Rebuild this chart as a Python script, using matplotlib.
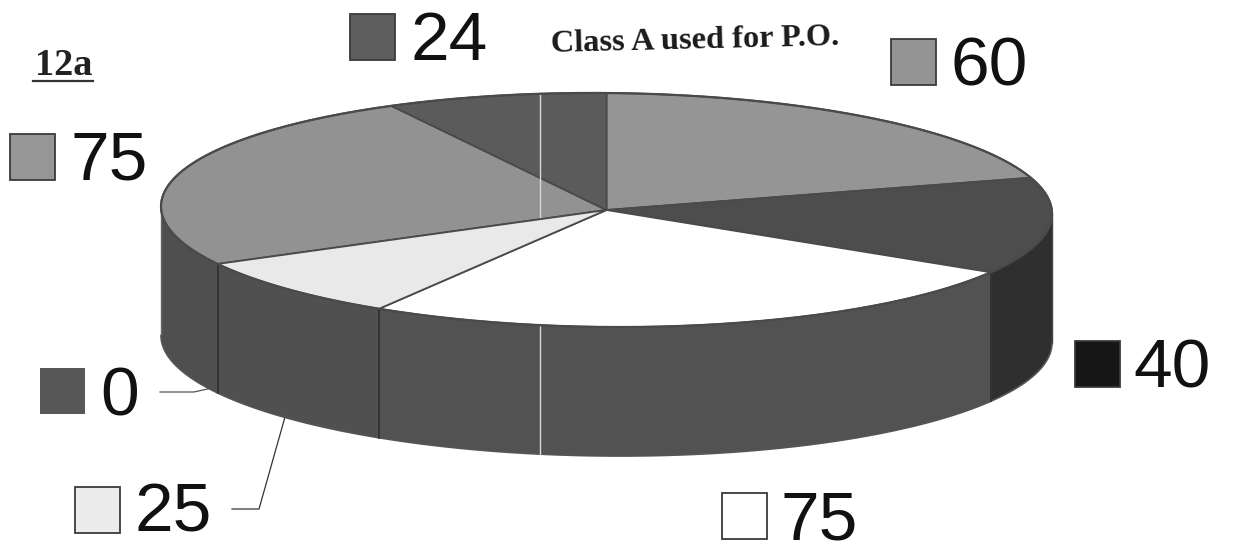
import numpy as np
import matplotlib
matplotlib.use("Agg")
import matplotlib.pyplot as plt
from matplotlib.patches import Polygon, Rectangle

# slices clockwise from 12 o'clock
values = [60, 40, 75, 0, 25, 75, 24]
top_colors = ['#959595', '#4d4d4d', '#ffffff', '#555555', '#e9e9e9', '#929292', '#5b5b5b']
side_colors = ['#6e6e6e', '#2f2f2f', '#525252', '#4a4a4a', '#505050', '#4f4f4f', '#4a4a4a']
swatch_colors = ['#949494', '#161616', '#ffffff', '#585858', '#ececec', '#969696', '#5e5e5e']
title = 'Class A used for P.O.'
fig_label = '12a'

# pixel layout of the scan
cx, cy, rx, ry = 606.5, 210, 445.5, 117
depth = 129
shear = 0.008
swatches = [(891, 39), (1075, 341), (722, 493), (40, 368), (75, 487), (10, 134), (350, 14)]
text_pos = [(950, 86), (1133, 388), (781, 539), (100, 415), (134, 532), (71, 179), (410, 60)]

fig = plt.figure(figsize=(12.4, 5.47), dpi=100)
ax = fig.add_axes([0, 0, 1, 1])
ax.set_xlim(0, 1240)
ax.set_ylim(547, 0)
ax.axis('off')


def rim(a, dy=0):
    # a in degrees, counter clockwise from 3 o'clock
    r = np.radians(a)
    x = cx + rx * np.cos(r)
    y = cy - ry * np.sin(r) + shear * (x - cx) + dy
    return np.column_stack([x, y])


edges = 90 - np.cumsum([0] + values) / sum(values) * 360

# side wall, only the front half shows
for i in range(len(values)):
    a0, a1 = edges[i + 1], edges[i]
    for lo, hi in [(a0, a1), (a0 + 360, a1 + 360)]:
        lo2, hi2 = max(lo, 180), min(hi, 360)
        if hi2 <= lo2:
            continue
        arc = np.linspace(lo2, hi2, 80)
        pts = np.vstack([rim(arc), rim(arc[::-1], depth)])
        ax.add_patch(Polygon(pts, closed=True, fc=side_colors[i], ec='none', zorder=2))
        ax.plot(*rim(arc, depth).T, color='#555555', lw=1.2, zorder=3)
        for b in (lo2, hi2):
            if 180 < b < 360:
                ax.plot(*np.vstack([rim(b), rim(b, depth)]).T, color='#333333', lw=1.2, zorder=3)

# left and right walls
ax.plot(*np.vstack([rim(180), rim(180, depth)]).T, color='#666666', lw=1, zorder=3)
ax.plot(*np.vstack([rim(0), rim(0, depth)]).T, color='#444444', lw=1, zorder=3)

# top face, the pale slices sit over the streak
centre = [[cx, cy]]
for i in range(len(values)):
    arc = np.linspace(edges[i], edges[i + 1], 120)
    pts = np.vstack([centre, rim(arc)])
    z = 7 if top_colors[i] in ('#ffffff', '#e9e9e9') else 4
    ax.add_patch(Polygon(pts, closed=True, fc=top_colors[i], ec='#4a4a4a', lw=1.3, zorder=z))
ax.plot(*rim(np.linspace(0, 360, 400)).T, color='#4a4a4a', lw=1.6, zorder=8)

# scanner streak
ax.plot([540, 540], [cy - ry, cy + ry + depth - 2], color='#d8d8d8', lw=1, zorder=6)

# legend squares and numbers
for i, v in enumerate(values):
    sx, sy = swatches[i]
    ax.add_patch(Rectangle((sx, sy), 45, 46, fc=swatch_colors[i], ec='#3a3a3a' if v != 0 else 'none', lw=1.3))
    ax.text(text_pos[i][0], text_pos[i][1], str(v), family='Liberation Sans', fontsize=50,
            color='#111111', ha='left', va='baseline')

# leader lines
ax.plot([160, 194, 212], [392, 392, 388], color='#555555', lw=0.9, zorder=1)
ax.plot([232, 259, 285], [509, 509, 417], color='#333333', lw=0.9, zorder=1)

ax.text(551, 52, title, family='Liberation Serif', fontweight='bold', fontsize=23.3,
        color='#1a1a1a', rotation=1.4, rotation_mode='anchor', ha='left', va='baseline')
ax.text(35, 75, fig_label, family='Liberation Serif', fontweight='bold', fontsize=27.5,
        color='#222222', ha='left', va='baseline')
ax.plot([33, 93], [81, 81], color='#333333', lw=1.6)

fig.savefig('out.png', dpi=100)
